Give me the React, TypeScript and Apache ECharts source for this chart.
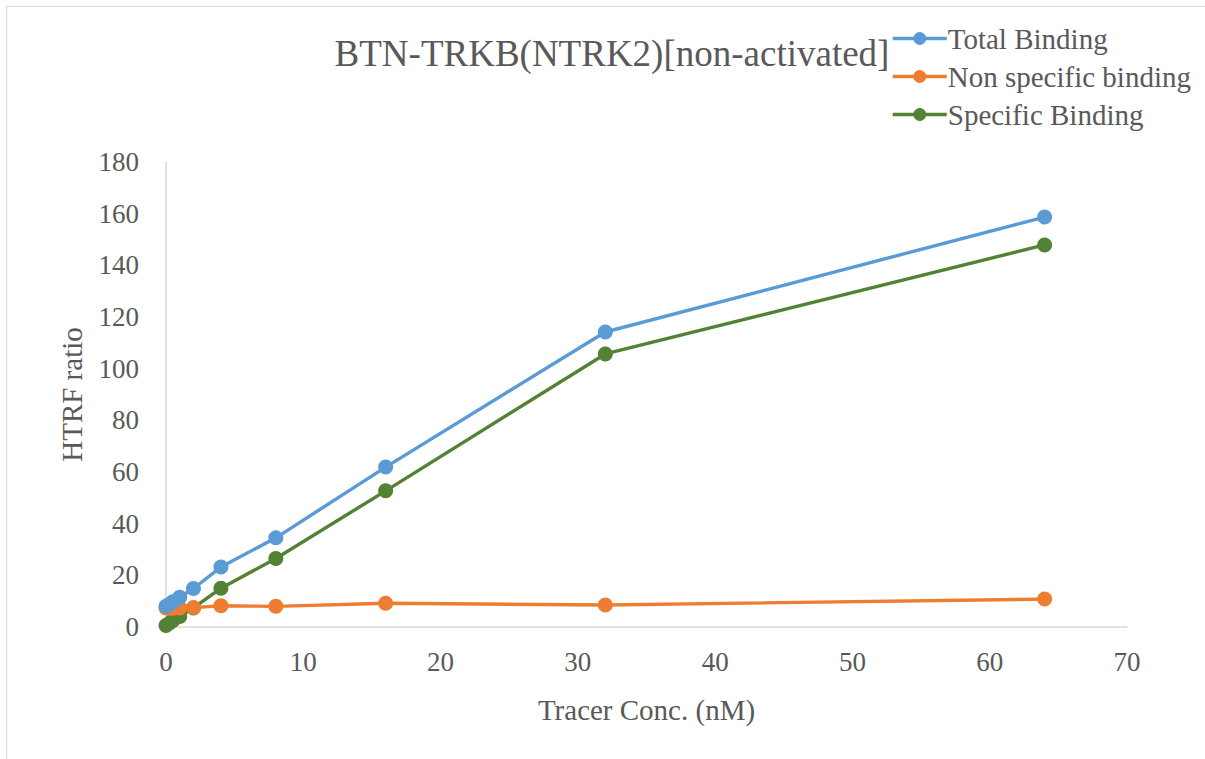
import React, { useEffect, useRef } from "react";
import * as echarts from "echarts";

const tracerConc = [0, 0.25, 0.5, 1, 2, 4, 8, 16, 32, 64];
const totalBinding = [8, 8.8, 9.8, 11.5, 14.9, 23.2, 34.5, 61.9, 114.2, 158.7];
const nonSpecificBinding = [7.4, 7.3, 7.3, 7.4, 7.5, 8.2, 8.0, 9.2, 8.5, 10.8];
const specificBinding = [0.6, 1.5, 2.5, 4.1, 7.4, 15.0, 26.5, 52.7, 105.7, 147.9];

const seriesNames = ["Total Binding", "Non specific binding", "Specific Binding"];
const seriesColors = ["#5B9BD5", "#ED7D31", "#548235"];
const seriesValues = [totalBinding, nonSpecificBinding, specificBinding];

const FONT = "Liberation Serif";
const TEXT = "#595959";

export default function App() {
  const ref = useRef<HTMLDivElement>(null);
  useEffect(() => {
    if (!ref.current) return;
    const chart = echarts.init(ref.current, undefined, { renderer: "svg" });
    chart.setOption({
      animation: false,
      backgroundColor: "#ffffff",
      textStyle: { fontFamily: FONT },
      title: {
        text: "BTN-TRKB(NTRK2)[non-activated]",
        left: 607,
        textAlign: "center",
        top: 30,
        textStyle: { fontFamily: FONT, fontSize: 37, fontWeight: "normal", color: TEXT },
      },
      graphic: [
        {
          type: "rect",
          shape: { x: 6.5, y: 6.5, width: 1300, height: 900 },
          style: { fill: "none", stroke: "#D9D9D9", lineWidth: 1 },
          silent: true,
          z: -1,
        },
      ],
      legend: {
        orient: "vertical",
        left: 886,
        top: 19,
        itemWidth: 54,
        itemHeight: 16,
        itemGap: 9,
        lineStyle: { width: 3.5 },
        textStyle: { fontFamily: FONT, fontSize: 29, color: TEXT, padding: [0, 0, 0, -4] },
        data: seriesNames,
      },
      grid: { left: 166, right: 78, top: 162, bottom: 132, containLabel: false },
      xAxis: {
        type: "value",
        min: 0,
        max: 70,
        interval: 10,
        name: "Tracer Conc. (nM)",
        nameLocation: "middle",
        nameGap: 68,
        nameTextStyle: { fontFamily: FONT, fontSize: 29, color: TEXT },
        axisLine: { show: true, lineStyle: { color: "#D9D9D9", width: 1.5 } },
        axisTick: { show: false },
        splitLine: { show: false },
        axisLabel: { fontFamily: FONT, fontSize: 27, color: TEXT, margin: 21 },
      },
      yAxis: {
        type: "value",
        min: 0,
        max: 180,
        interval: 20,
        name: "HTRF ratio",
        nameLocation: "middle",
        nameGap: 80,
        nameRotate: 90,
        nameTextStyle: { fontFamily: FONT, fontSize: 29, color: TEXT },
        axisLine: { show: true, lineStyle: { color: "#D9D9D9", width: 1.5 } },
        axisTick: { show: false },
        splitLine: { show: false },
        axisLabel: { fontFamily: FONT, fontSize: 27, color: TEXT, margin: 27 },
      },
      series: seriesNames.map((name, i) => ({
        name,
        type: "line",
        data: tracerConc.map((x, j) => [x, seriesValues[i][j]]),
        symbol: "circle",
        symbolSize: 15,
        showSymbol: true,
        itemStyle: { color: seriesColors[i] },
        lineStyle: { color: seriesColors[i], width: 3.4 },
        z: 3 - i,
      })),
    });
    return () => chart.dispose();
  }, []);
  return (
    <div
      ref={ref}
      style={{ position: "fixed", left: 0, top: 0, width: 1205, height: 759, background: "#fff" }}
    />
  );
}
